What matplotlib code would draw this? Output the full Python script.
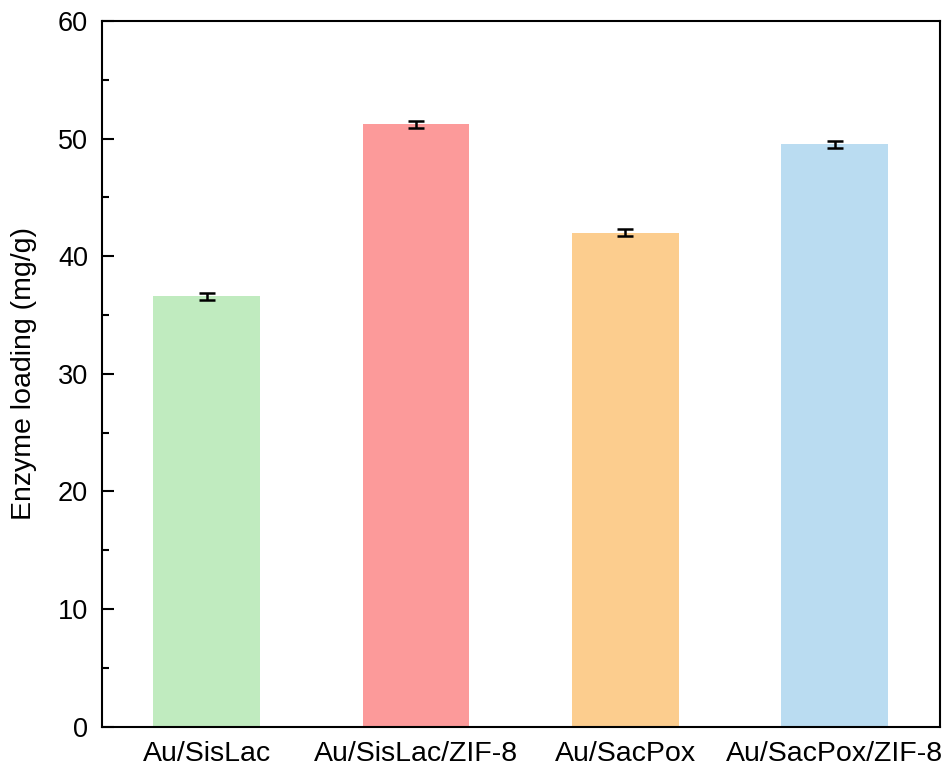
import matplotlib.pyplot as plt
from matplotlib.ticker import MultipleLocator

plt.rcParams['font.family'] = ['Liberation Sans', 'DejaVu Sans']

# enzyme loading per electrode
samples = ['Au/SisLac', 'Au/SisLac/ZIF-8', 'Au/SacPox', 'Au/SacPox/ZIF-8']
loading = [36.6, 51.2, 42.0, 49.5]
loading_err = [0.3, 0.3, 0.3, 0.3]
colors = ['#C0EBBF', '#FC9A9A', '#FCCD8E', '#BADCF1']

fig = plt.figure(figsize=(9.52, 7.74), dpi=100)
ax = fig.add_axes([0.107, 0.061, 0.880, 0.912])

x = range(len(samples))
ax.bar(x, loading, width=0.51, color=colors, zorder=1)
ax.errorbar(x, loading, yerr=loading_err, fmt='none', ecolor='black',
            elinewidth=1.8, capsize=5.5, capthick=1.8, zorder=2)

ax.set_xlim(-0.5, 3.5)
ax.set_ylim(0, 60)
ax.set_xticks(list(x))
ax.set_xticklabels(samples, fontsize=20.5)
ax.yaxis.set_major_locator(MultipleLocator(10))
ax.yaxis.set_minor_locator(MultipleLocator(5))
ax.tick_params(axis='y', which='major', direction='in', length=8.5, width=1.5,
               labelsize=19.5, pad=10)
ax.tick_params(axis='y', which='minor', direction='in', length=5, width=1.5)
ax.tick_params(axis='x', length=0, pad=10)
ax.set_ylabel('Enzyme loading (mg/g)', fontsize=20.5, labelpad=15)

for s in ax.spines.values():
    s.set_linewidth(1.5)

plt.savefig('out.png', dpi=100)
